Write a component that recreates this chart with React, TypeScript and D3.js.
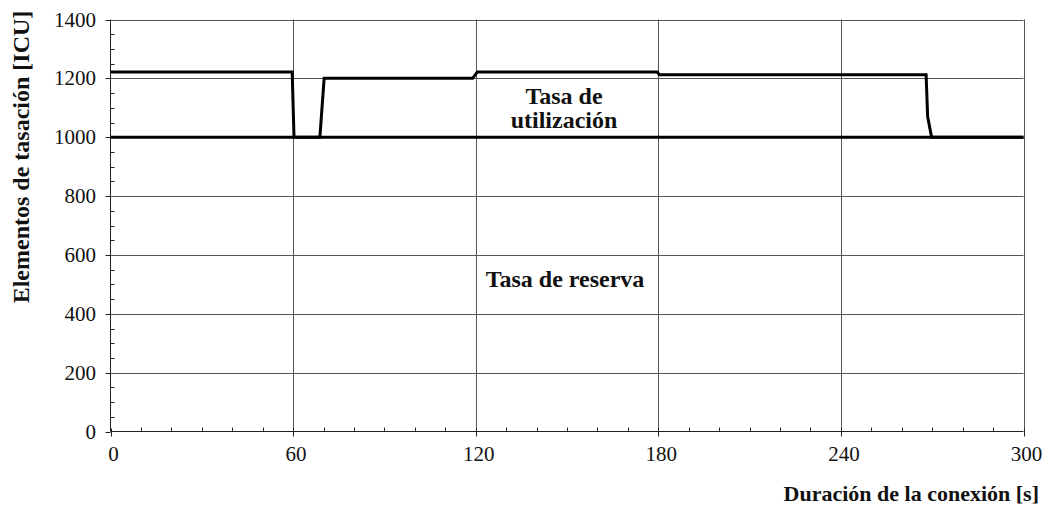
import React, { useEffect, useRef } from 'react';
import * as d3 from 'd3';

// connection time [s] and tariff units [ICU]
const utilTime = [0, 59.7, 60.3, 68.8, 70.2, 119, 120.5, 179.7, 180.3, 268, 268.5, 269.8, 300];
const utilRate = [1222, 1222, 1000, 1000, 1200, 1200, 1222, 1222, 1212, 1212, 1070, 1000, 1000];
const reserveTime = [0, 300];
const reserveRate = [1000, 1000];

const xTicks = [0, 60, 120, 180, 240, 300];
const yTicks = [0, 200, 400, 600, 800, 1000, 1200, 1400];

const FONT = '"Liberation Serif", "Times New Roman", serif';

const App: React.FC = () => {
  const svgRef = useRef<SVGSVGElement>(null);

  useEffect(() => {
    if (!svgRef.current) return;
    const svg = d3.select(svgRef.current);
    svg.selectAll('*').remove();

    const x = d3.scaleLinear().domain([0, 300]).range([110.5, 1023.5]);
    const y = d3.scaleLinear().domain([0, 1400]).range([431.5, 19.5]);

    // grid
    svg.append('g')
      .selectAll('line')
      .data(yTicks.slice(1))
      .enter()
      .append('line')
      .attr('x1', x(0)).attr('x2', x(300))
      .attr('y1', d => Math.round(y(d)) + 0.5).attr('y2', d => Math.round(y(d)) + 0.5)
      .attr('stroke', '#555').attr('stroke-width', 1);

    svg.append('g')
      .selectAll('line')
      .data(xTicks.slice(1))
      .enter()
      .append('line')
      .attr('x1', d => Math.round(x(d)) + 0.5).attr('x2', d => Math.round(x(d)) + 0.5)
      .attr('y1', y(0)).attr('y2', y(1400))
      .attr('stroke', '#555').attr('stroke-width', 1);

    // minor ticks
    const xMinor = d3.range(0, 301, 10).filter(v => v % 60 !== 0);
    svg.append('g')
      .selectAll('line')
      .data(xMinor)
      .enter()
      .append('line')
      .attr('x1', d => Math.round(x(d)) + 0.5).attr('x2', d => Math.round(x(d)) + 0.5)
      .attr('y1', y(0)).attr('y2', y(0) - 4)
      .attr('stroke', '#222');

    const yMinor = d3.range(0, 1401, 50).filter(v => v % 200 !== 0);
    svg.append('g')
      .selectAll('line')
      .data(yMinor)
      .enter()
      .append('line')
      .attr('x1', x(0)).attr('x2', x(0) + 4)
      .attr('y1', d => Math.round(y(d)) + 0.5).attr('y2', d => Math.round(y(d)) + 0.5)
      .attr('stroke', '#222');

    // major ticks
    svg.append('g')
      .selectAll('line')
      .data(xTicks)
      .enter()
      .append('line')
      .attr('x1', d => Math.round(x(d)) + 0.5).attr('x2', d => Math.round(x(d)) + 0.5)
      .attr('y1', y(0) - 3).attr('y2', y(0) + 5)
      .attr('stroke', '#222');

    svg.append('g')
      .selectAll('line')
      .data(yTicks)
      .enter()
      .append('line')
      .attr('x1', x(0) - 5).attr('x2', x(0))
      .attr('y1', d => Math.round(y(d)) + 0.5).attr('y2', d => Math.round(y(d)) + 0.5)
      .attr('stroke', '#222');

    // axes
    svg.append('line')
      .attr('x1', x(0)).attr('x2', x(300))
      .attr('y1', y(0)).attr('y2', y(0))
      .attr('stroke', '#222');
    svg.append('line')
      .attr('x1', x(0)).attr('x2', x(0))
      .attr('y1', y(0)).attr('y2', y(1400))
      .attr('stroke', '#222');

    // tick labels
    svg.append('g')
      .selectAll('text')
      .data(xTicks)
      .enter()
      .append('text')
      .attr('x', d => x(d) + 3)
      .attr('y', 461)
      .attr('text-anchor', 'middle')
      .attr('font-family', FONT)
      .attr('font-size', 21)
      .attr('fill', '#111')
      .text(d => d);

    svg.append('g')
      .selectAll('text')
      .data(yTicks)
      .enter()
      .append('text')
      .attr('x', 96)
      .attr('y', d => y(d) + 7)
      .attr('text-anchor', 'end')
      .attr('font-family', FONT)
      .attr('font-size', 21)
      .attr('fill', '#111')
      .text(d => d);

    // series
    const line = d3.line<[number, number]>()
      .x(d => x(d[0]))
      .y(d => y(d[1]));

    svg.append('path')
      .datum(reserveTime.map((t, i) => [t, reserveRate[i]] as [number, number]))
      .attr('d', line)
      .attr('fill', 'none')
      .attr('stroke', '#000')
      .attr('stroke-width', 3);

    svg.append('path')
      .datum(utilTime.map((t, i) => [t, utilRate[i]] as [number, number]))
      .attr('d', line)
      .attr('fill', 'none')
      .attr('stroke', '#000')
      .attr('stroke-width', 3)
      .attr('stroke-linejoin', 'miter');

    // annotations
    const bold = (sel: d3.Selection<SVGTextElement, unknown, null, undefined>, size = 24) =>
      sel.attr('font-family', FONT).attr('font-weight', 'bold').attr('font-size', size).attr('fill', '#111');

    svg.append('text').attr('x', 564).attr('y', 104).attr('text-anchor', 'middle')
      .call(bold).text('Tasa de');
    svg.append('text').attr('x', 564).attr('y', 128).attr('text-anchor', 'middle')
      .call(bold).text('utilización');
    svg.append('text').attr('x', 565).attr('y', 287).attr('text-anchor', 'middle')
      .call(bold).text('Tasa de reserva');

    // axis titles
    svg.append('text')
      .attr('x', 1039).attr('y', 501)
      .attr('text-anchor', 'end')
      .call(bold, 22)
      .text('Duración de la conexión [s]');

    svg.append('text')
      .attr('transform', 'translate(29,157) rotate(-90)')
      .attr('text-anchor', 'middle')
      .call(bold, 24)
      .text('Elementos de tasación [ICU]');
  }, []);

  return (
    <svg
      ref={svgRef}
      width={1048}
      height={508}
      style={{ position: 'absolute', left: 0, top: 0, background: '#fff' }}
    />
  );
};

export default App;
